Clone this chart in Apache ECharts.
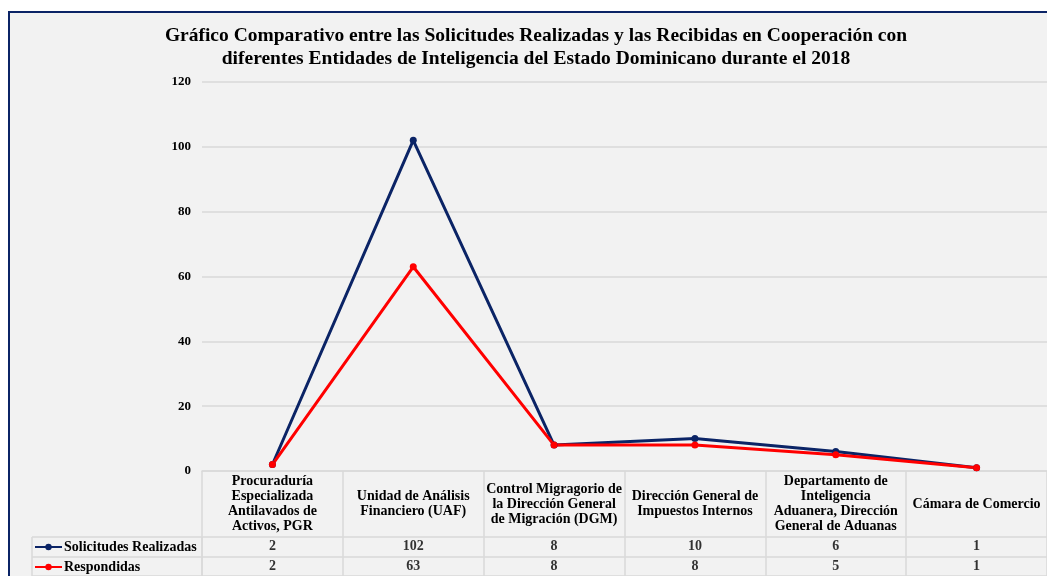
<!DOCTYPE html>
<html>
<head>
<meta charset="utf-8">
<script src="https://cdn.jsdelivr.net/npm/echarts@6/dist/echarts.min.js"></script>
<style>
  html, body { margin: 0; padding: 0; background: #fff; }
  #frame {
    position: absolute; left: 8px; top: 11px; right: 0; bottom: 0;
    background: #f2f2f2;
    border-left: 2px solid #0b2466; border-top: 2px solid #0b2466;
  }
  #chart { position: absolute; left: 0; top: 0; width: 1047px; height: 576px; }
</style>
</head>
<body>
<div id="frame"></div>
<div id="chart"></div>
<script>
// data
const categories = [
  'Procuraduría\nEspecializada\nAntilavados de\nActivos, PGR',
  'Unidad de Análisis\nFinanciero (UAF)',
  'Control Migragorio de\nla Dirección General\nde Migración (DGM)',
  'Dirección General de\nImpuestos Internos',
  'Departamento de\nInteligencia\nAduanera, Dirección\nGeneral de Aduanas',
  'Cámara de Comercio'
];
const seriesNames = ['Solicitudes Realizadas', 'Respondidas'];
const solicitudes = [2, 102, 8, 10, 6, 1];
const respondidas = [2, 63, 8, 8, 5, 1];
const yMin = 0, yMax = 120, yStep = 20;

const FONT = 'Liberation Serif';
const NAVY = '#0b2466';
const RED = '#ff0000';
const GRID_COLOR = '#d9d9d9';

// cells of the data table (column, row, value)
const tableCells = [];
[solicitudes, respondidas].forEach((vals, row) => {
  vals.forEach((v, col) => tableCells.push([col, row, v]));
});

const chart = echarts.init(document.getElementById('chart'));

chart.setOption({
  backgroundColor: 'transparent',
  animation: false,
  title: {
    text: 'Gráfico Comparativo entre las Solicitudes Realizadas y las Recibidas en Cooperación con\ndiferentes Entidades de Inteligencia del Estado Dominicano durante el 2018',
    left: 536,
    top: 24,
    padding: 0,
    textAlign: 'center',
    textStyle: {
      fontFamily: FONT,
      fontWeight: 'bold',
      fontSize: 19.5,
      lineHeight: 23,
      color: '#000'
    }
  },
  legend: {
    data: seriesNames,
    orient: 'vertical',
    left: 34,
    top: 540,
    padding: 0,
    itemWidth: 27,
    itemHeight: 8,
    itemGap: 6,
    textStyle: {
      fontFamily: FONT, fontWeight: 'bold', fontSize: 14, lineHeight: 14,
      color: '#000', padding: [0, 0, 0, -3]
    }
  },
  grid: [
    { left: 202, right: 0, top: 82, bottom: 105 },
    { left: 202, right: 0, top: 537, height: 40 }
  ],
  xAxis: [
    {
      type: 'category',
      gridIndex: 0,
      data: categories,
      axisLine: { lineStyle: { color: GRID_COLOR, width: 1.5 } },
      axisTick: { show: true, length: 106, lineStyle: { color: GRID_COLOR, width: 1.5 } },
      axisLabel: {
        interval: 0,
        margin: 33,
        verticalAlign: 'middle',
        align: 'center',
        lineHeight: 15,
        fontFamily: FONT,
        fontWeight: 'bold',
        fontSize: 14,
        color: '#000'
      }
    },
    {
      type: 'category',
      gridIndex: 1,
      data: categories,
      axisLine: { show: false },
      axisTick: { show: false },
      axisLabel: { show: false }
    }
  ],
  yAxis: [
    {
      type: 'value',
      gridIndex: 0,
      min: yMin,
      max: yMax,
      interval: yStep,
      axisLine: { show: false },
      axisTick: { show: false },
      splitLine: { lineStyle: { color: GRID_COLOR, width: 1.5 } },
      axisLabel: { margin: 11, fontFamily: FONT, fontWeight: 'bold', fontSize: 13, color: '#000' }
    },
    {
      type: 'category',
      gridIndex: 1,
      data: seriesNames,
      inverse: true,
      axisLine: { show: false },
      axisLabel: { show: false },
      axisTick: { show: true, interval: 0, length: 170, lineStyle: { color: GRID_COLOR, width: 1.5 } },
      splitLine: { show: true, interval: 0, lineStyle: { color: GRID_COLOR, width: 1.5 } }
    }
  ],
  graphic: [
    { type: 'line', shape: { x1: 32, y1: 537, x2: 32, y2: 577 }, style: { stroke: GRID_COLOR, lineWidth: 1.5 }, silent: true },
    { type: 'line', shape: { x1: 202, y1: 537, x2: 202, y2: 577 }, style: { stroke: GRID_COLOR, lineWidth: 1.5 }, silent: true }
  ],
  series: [
    {
      name: seriesNames[0],
      type: 'line',
      data: solicitudes,
      symbol: 'circle',
      symbolSize: 7,
      color: NAVY,
      lineStyle: { width: 3, color: NAVY },
      itemStyle: { color: NAVY }
    },
    {
      name: seriesNames[1],
      type: 'line',
      data: respondidas,
      symbol: 'circle',
      symbolSize: 7,
      color: RED,
      lineStyle: { width: 3, color: RED },
      itemStyle: { color: RED }
    },
    {
      name: 'tabla',
      type: 'scatter',
      xAxisIndex: 1,
      yAxisIndex: 1,
      data: tableCells,
      symbolSize: 1,
      silent: true,
      itemStyle: { color: 'transparent' },
      label: {
        show: true,
        position: 'inside',
        formatter: p => p.value[2],
        fontFamily: FONT,
        fontWeight: 'bold',
        fontSize: 14,
        color: '#000'
      }
    }
  ]
});
</script>
</body>
</html>
